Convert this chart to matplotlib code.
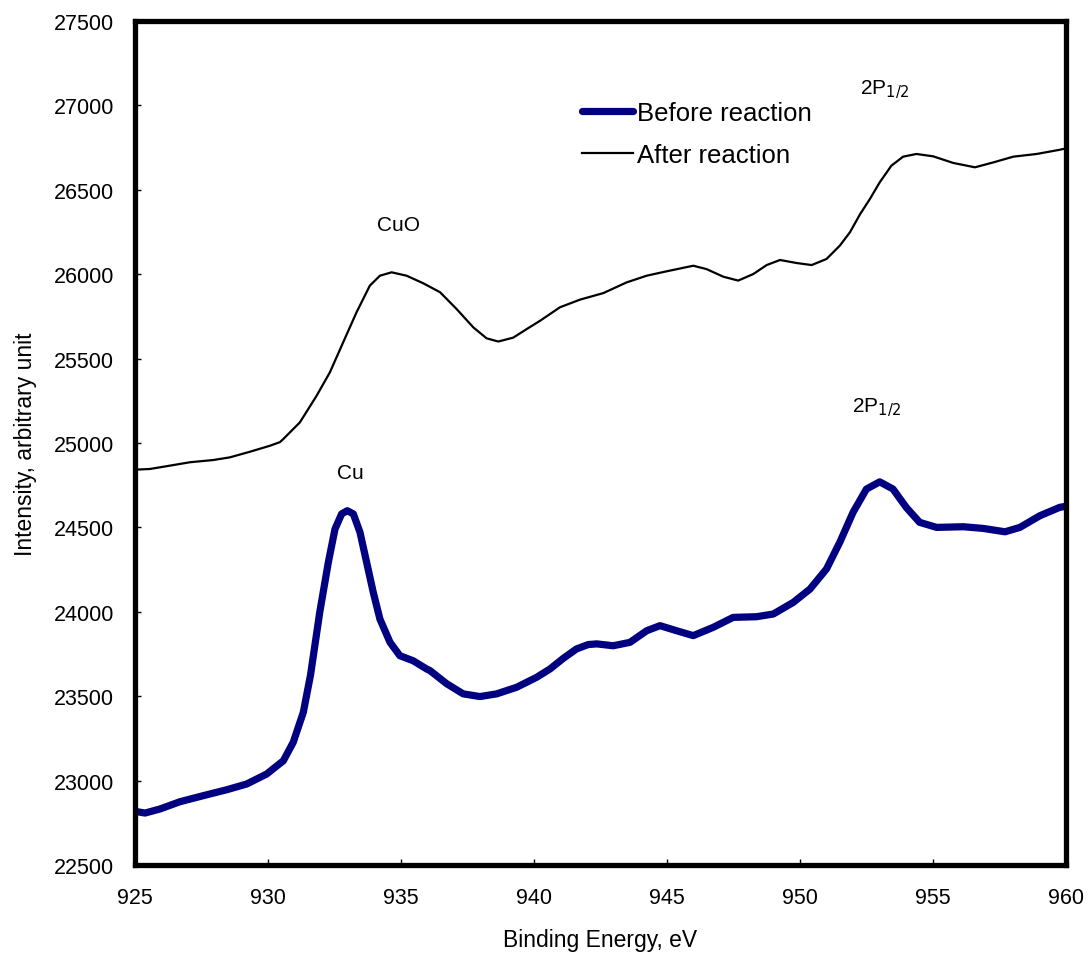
import matplotlib
matplotlib.use("Agg")
import matplotlib.pyplot as plt

plt.rcParams['font.family'] = ['Liberation Sans', 'DejaVu Sans']

# Before reaction (Cu 2p region)
before_x = [925.00, 925.38, 925.94, 926.69, 927.57, 928.45, 929.20, 929.95, 930.58, 930.95,
            931.33, 931.60, 931.95, 932.27, 932.52, 932.77, 932.98, 933.21, 933.46, 933.71,
            933.96, 934.21, 934.59, 934.96, 935.46, 935.97, 936.09, 936.72, 937.34, 937.97,
            938.60, 939.35, 940.10, 940.60, 941.10, 941.60, 942.04, 942.36, 942.98, 943.61,
            944.24, 944.74, 945.36, 945.99, 946.74, 947.49, 948.37, 949.00, 949.75, 950.38,
            951.00, 951.50, 952.00, 952.50, 953.00, 953.50, 954.00, 954.50, 955.14, 956.14,
            956.89, 957.71, 958.27, 959.02, 959.77, 960.00]
before_y = [22818, 22808, 22832, 22875, 22911, 22946, 22980, 23039, 23118, 23227,
            23405, 23625, 24000, 24293, 24490, 24580, 24599, 24580, 24471, 24293,
            24115, 23957, 23819, 23740, 23710, 23661, 23652, 23574, 23514, 23498,
            23514, 23553, 23612, 23661, 23724, 23780, 23806, 23810, 23799, 23819,
            23888, 23918, 23888, 23859, 23908, 23967, 23971, 23987, 24056, 24135,
            24254, 24412, 24590, 24727, 24770, 24727, 24618, 24530, 24500, 24504,
            24494, 24474, 24500, 24569, 24619, 24625]

# After reaction
after_x = [925.00, 925.56, 926.32, 927.07, 927.94, 928.57, 929.32, 930.08, 930.45, 930.58,
           931.20, 931.83, 932.33, 932.83, 933.33, 933.83, 934.21, 934.65, 935.21, 935.84,
           936.47, 937.09, 937.72, 938.22, 938.66, 939.22, 939.73, 940.23, 940.98, 941.73,
           942.61, 943.48, 944.24, 944.99, 945.99, 946.49, 947.12, 947.68, 948.25, 948.75,
           949.25, 949.88, 950.44, 951.00, 951.50, 951.88, 952.26, 952.63, 953.00, 953.44,
           953.88, 954.38, 955.01, 955.76, 956.58, 957.27, 958.02, 958.90, 959.77, 960.00]
after_y = [24842, 24846, 24866, 24886, 24899, 24915, 24948, 24984, 25005, 25024,
           25122, 25280, 25419, 25597, 25774, 25932, 25991, 26011, 25991, 25946,
           25893, 25794, 25685, 25620, 25601, 25624, 25675, 25724, 25804, 25849,
           25888, 25951, 25991, 26017, 26050, 26030, 25985, 25962, 26001, 26054,
           26084, 26066, 26054, 26090, 26169, 26248, 26355, 26445, 26544, 26643,
           26696, 26712, 26698, 26659, 26633, 26662, 26696, 26712, 26737, 26745]

x_ticks = [925, 930, 935, 940, 945, 950, 955, 960]
y_ticks = [22500, 23000, 23500, 24000, 24500, 25000, 25500, 26000, 26500, 27000, 27500]

annotations = [("CuO", 934.9, 26297), ("Cu", 933.1, 24828),
               ("2P$_{1/2}$", 953.2, 27097), ("2P$_{1/2}$", 952.9, 25213)]

fig = plt.figure(figsize=(10.91, 9.54), dpi=100)
ax = fig.add_axes([0.1237, 0.0922, 0.977 - 0.1237, 0.977 - 0.0922])

ax.plot(before_x, before_y, color='#000080', lw=5.2, label='Before reaction',
        solid_capstyle='round', solid_joinstyle='round')
ax.plot(after_x, after_y, color='black', lw=1.6, label='After reaction',
        solid_joinstyle='round')

ax.set_xlim(925, 960)
ax.set_ylim(22500, 27500)
ax.set_xticks(x_ticks)
ax.set_yticks(y_ticks)
ax.tick_params(direction='in', length=4, width=1, labelsize=15.5,
               top=False, right=False)
ax.tick_params(axis='x', pad=16)
ax.tick_params(axis='y', pad=15)
for s in ax.spines.values():
    s.set_linewidth(3.8)

ax.set_xlabel('Binding Energy, eV', fontsize=16.5, labelpad=14)
ax.set_ylabel('Intensity, arbitrary unit', fontsize=16.5, labelpad=12)

for txt, xx, yy in annotations:
    ax.text(xx, yy, txt, fontsize=15, ha='center', va='center')

leg = ax.legend(loc='upper left', bbox_to_anchor=(0.480, 0.905), frameon=False,
                fontsize=18.5, handlelength=2.0, handletextpad=0.15,
                labelspacing=0.68, borderaxespad=0, borderpad=0)

fig.savefig('out.png', dpi=100)
